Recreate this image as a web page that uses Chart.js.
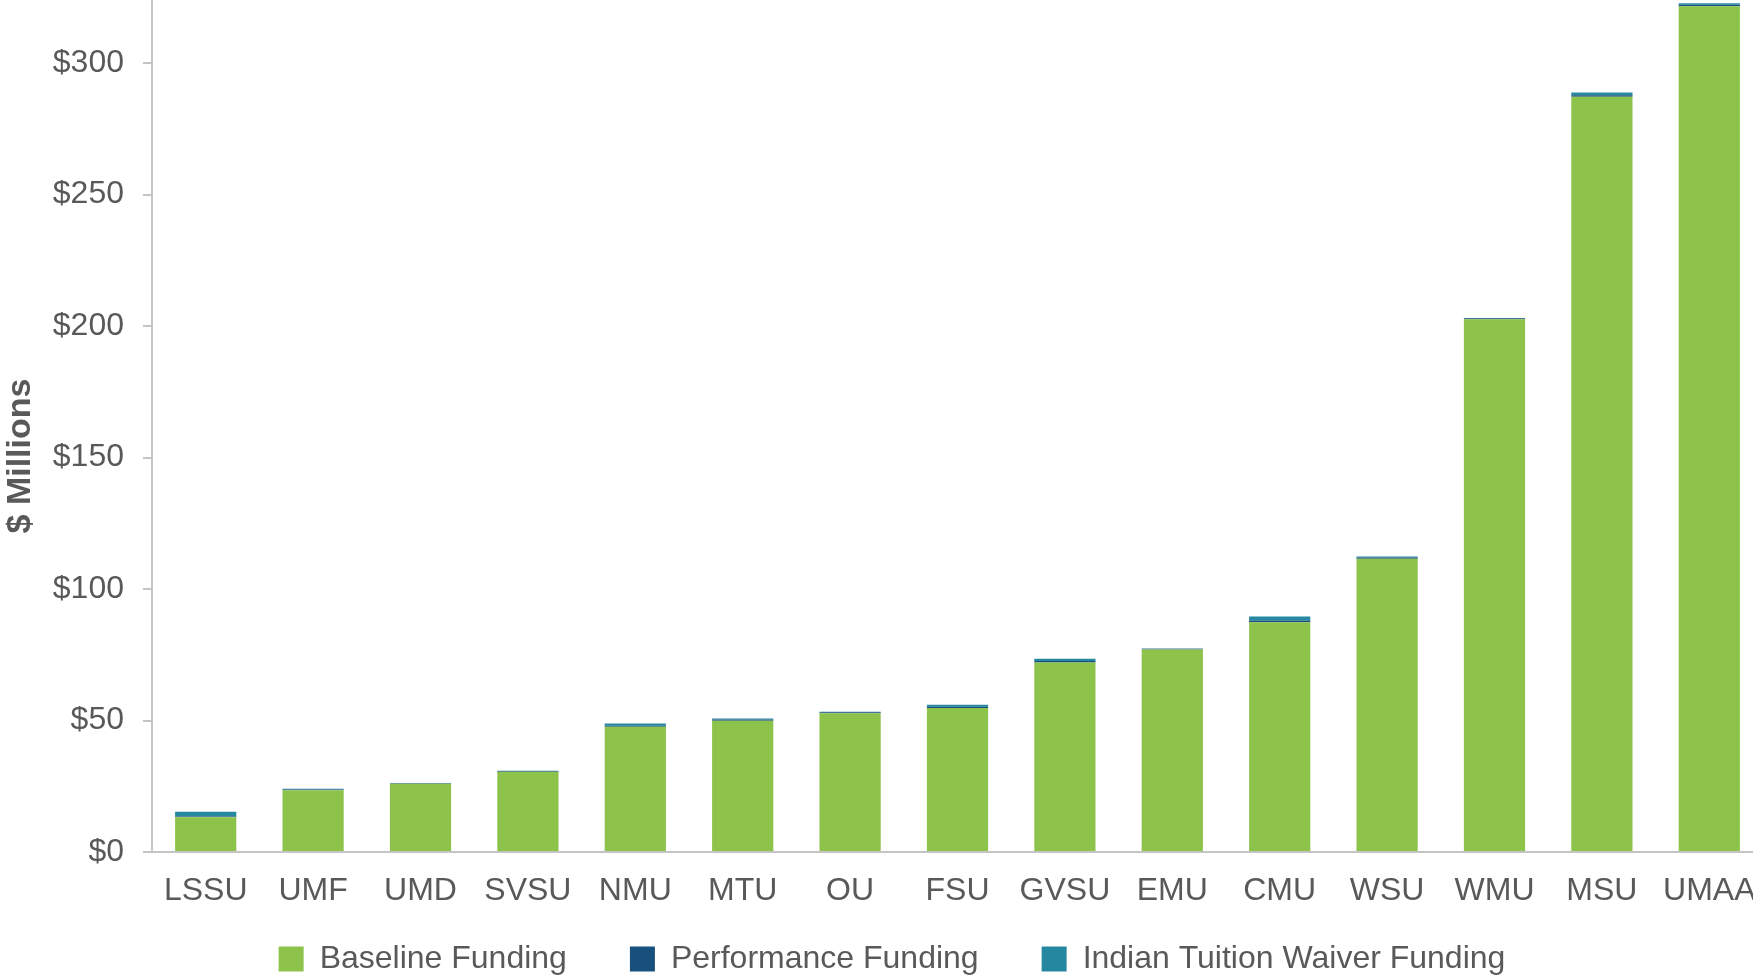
<!DOCTYPE html>
<html>
<head>
<meta charset="utf-8">
<script src="https://cdn.jsdelivr.net/npm/chart.js@4.4.1/dist/chart.umd.min.js"></script>
<style>
  html, body { margin: 0; padding: 0; background: #fff; overflow: hidden; }
  #wrap { position: absolute; left: 0; top: 0; width: 1800px; height: 1017px; }
</style>
</head>
<body>
<div id="wrap"><canvas id="myChart"></canvas></div>
<script>
// universities, smallest to largest
var schools = ["LSSU", "UMF", "UMD", "SVSU", "NMU", "MTU", "OU", "FSU", "GVSU", "EMU", "CMU", "WSU", "WMU", "MSU", "UMAA"];

// $ millions
var baseline = [13.2, 23.5, 26.0, 30.5, 47.6, 49.9, 52.8, 54.8, 72.1, 77.0, 87.4, 111.5, 202.6, 287.2, 321.6];
var performance = [0.3, 0.3, 0.15, 0.3, 0.4, 0.5, 0.3, 0.4, 0.5, 0.3, 0.6, 0.5, 0.4, 0.6, 0.6];
var indianWaiver = [1.8, 0.25, 0.05, 0.1, 0.9, 0.4, 0.2, 0.8, 0.9, 0.1, 1.6, 0.4, 0.1, 1.0, 0.6];

var yTicks = [0, 50, 100, 150, 200, 250, 300];

var grey = "#595959";
var font = "'Liberation Sans', Arial, sans-serif";

// y title sits a bit below the middle of the axis in the original
var yTitle = {
  id: "yTitle",
  afterDraw: function (chart) {
    var c = chart.ctx;
    c.save();
    c.translate(21, 456);
    c.rotate(-Math.PI / 2);
    c.font = "bold 34px " + font;
    c.fillStyle = grey;
    c.textAlign = "center";
    c.textBaseline = "middle";
    c.fillText("$ Millions", 0, 0);
    c.restore();
  }
};

// legend padding is big for the gaps between items, pull it back up under the axis
var legendUp = {
  id: "legendUp",
  afterLayout: function (chart) {
    var lg = chart.legend;
    var shift = lg.top - (chart.chartArea.bottom + 28);
    lg.top -= shift;
    lg.bottom -= shift;
  }
};

var ctx = document.getElementById("myChart").getContext("2d");
var myChart = new Chart(ctx, {
  type: "bar",
  data: {
    labels: schools,
    datasets: [
      { label: "Baseline Funding", data: baseline, backgroundColor: "#8DC34B" },
      { label: "Performance Funding", data: performance, backgroundColor: "#17507D" },
      { label: "Indian Tuition Waiver Funding", data: indianWaiver, backgroundColor: "#2688A0" }
    ]
  },
  options: {
    responsive: true,
    maintainAspectRatio: false,
    animation: false,
    layout: { padding: { left: 21, right: 37, top: 0, bottom: 0 } },
    datasets: { bar: { barPercentage: 0.57, categoryPercentage: 1.0 } },
    plugins: {
      tooltip: { enabled: false },
      legend: {
        position: "bottom",
        labels: {
          boxWidth: 25,
          boxHeight: 25,
          padding: 63,
          color: grey,
          font: { family: font, size: 32 }
        }
      }
    },
    scales: {
      x: {
        stacked: true,
        grid: { drawOnChartArea: false, drawTicks: false },
        border: { display: true, color: "#c4c4c4", width: 2 },
        ticks: { color: grey, padding: 20, font: { family: font, size: 32 }, maxRotation: 0, autoSkip: false },
        afterFit: function (s) { s.height = 60; s.paddingLeft = 0; s.paddingRight = 0; }
      },
      y: {
        stacked: true,
        min: 0,
        max: 324,
        grid: { drawOnChartArea: false, drawTicks: true, tickLength: 9, color: "#c4c4c4", lineWidth: 2 },
        border: { display: true, color: "#c4c4c4", width: 2 },
        ticks: {
          color: grey,
          padding: 19,
          font: { family: font, size: 32 },
          callback: function (v) { return "$" + v; }
        },
        afterBuildTicks: function (s) {
          s.ticks = yTicks.map(function (v) { return { value: v }; });
        },
        afterFit: function (s) { s.width = 131; s.paddingTop = 0; s.paddingBottom = 0; }
      }
    }
  },
  plugins: [yTitle, legendUp]
});
</script>
</body>
</html>
